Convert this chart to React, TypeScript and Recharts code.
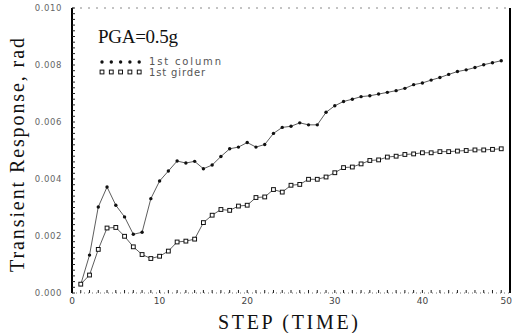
import React from 'react';
import { LineChart, Line, XAxis, YAxis, ReferenceLine } from 'recharts';

// step number (time) of each plotted point
const steps = [
  1, 2, 3, 4, 5, 6, 7, 8, 9, 10, 11, 12, 13, 14, 15, 16, 17, 18, 19, 20, 21, 22, 23, 24, 25,
  26, 27, 28, 29, 30, 31, 32, 33, 34, 35, 36, 37, 38, 39, 40, 41, 42, 43, 44, 45, 46, 47, 48, 49,
];

// transient response, rad
const firstColumn = [
  0.0003, 0.00133, 0.00302, 0.00372, 0.00308, 0.00267, 0.00206, 0.00213, 0.00331, 0.00393,
  0.00428, 0.00463, 0.00456, 0.00462, 0.00436, 0.00449, 0.00479, 0.00506, 0.00512, 0.00528,
  0.00512, 0.00521, 0.0056, 0.00581, 0.00585, 0.00597, 0.0059, 0.0059, 0.00634, 0.00657,
  0.00672, 0.0068, 0.00689, 0.00692, 0.00698, 0.00704, 0.0071, 0.00718, 0.00731, 0.00737,
  0.00747, 0.00756, 0.00767, 0.00777, 0.00783, 0.00791, 0.00801, 0.00808, 0.00815,
];

const firstGirder = [
  0.00031, 0.00063, 0.00153, 0.00228, 0.0023, 0.00199, 0.00162, 0.00135, 0.00121, 0.00129,
  0.00147, 0.00179, 0.00182, 0.00189, 0.00247, 0.00273, 0.00293, 0.0029, 0.00305, 0.00308,
  0.00335, 0.00337, 0.00363, 0.00354, 0.00378, 0.00381, 0.00399, 0.00399, 0.00407, 0.00422,
  0.0044, 0.00442, 0.00453, 0.00465, 0.00467, 0.00477, 0.0048, 0.00486, 0.00488, 0.00492,
  0.00492, 0.00496, 0.00496, 0.00498, 0.005, 0.00502, 0.00502, 0.00504, 0.00506,
];

const xTickLabels = [0, 10, 20, 30, 40, 50];
const yTickLabels = ['0.000', '0.002', '0.004', '0.006', '0.008', '0.010'];

const data = steps.map((s, i) => ({ step: s, column: firstColumn[i], girder: firstGirder[i] }));

// minor tick marks: one per step on x, every 0.0002 on y
const xMinor: number[] = [];
for (let i = 0; i <= 50; i++) xMinor.push(i);
const yMinor: number[] = [];
for (let i = 0; i <= 50; i++) yMinor.push(i * 0.0002);

const serif = '"Liberation Serif", "DejaVu Serif", serif';
const sans = '"DejaVu Sans", sans-serif';

const DotMark = (props: any) => {
  const { cx, cy } = props;
  if (cx == null || cy == null) return null;
  return <circle cx={cx} cy={cy} r={1.7} fill="#111" />;
};

const SquareMark = (props: any) => {
  const { cx, cy } = props;
  if (cx == null || cy == null) return null;
  return <rect x={cx - 1.9} y={cy - 1.9} width={3.8} height={3.8} fill="#fff" stroke="#111" strokeWidth={1} />;
};

const XTick = (props: any) => {
  const { x, y, payload } = props;
  const v = payload.value;
  if (!xTickLabels.includes(v)) return <g />;
  // last label would run off the page, pull it inside the edge
  const anchor = v === 50 ? 'end' : 'middle';
  const tx = v === 50 ? 512 : x;
  return (
    <text x={tx} y={y} dy="0.71em" textAnchor={anchor} fontSize={9} fontFamily={sans} fill="#444">
      {v}
    </text>
  );
};

const YTick = (props: any) => {
  const { x, y, index } = props;
  if (index % 10 !== 0) return <g />;
  const label = yTickLabels[index / 10];
  return (
    <text x={x} y={y} dy="0.35em" textAnchor="end" fontSize={8.5} fontFamily={sans} fill="#666" letterSpacing={0.6}>
      {label}
    </text>
  );
};

const App = () => {
  return (
    <div style={{ position: 'absolute', left: 0, top: 0, width: 513, height: 333, background: '#fff' }}>
      <LineChart width={513} height={333} data={data} margin={{ top: 8, right: 3, left: 12, bottom: 0 }}>
        <XAxis
          dataKey="step"
          type="number"
          domain={[0, 50]}
          ticks={xMinor}
          interval={0}
          height={40}
          tickSize={-3}
          tickMargin={8}
          tick={<XTick />}
          axisLine={{ stroke: '#777', strokeDasharray: '1 3' }}
          tickLine={{ stroke: '#222' }}
        />
        <YAxis
          type="number"
          domain={[0, 0.01]}
          ticks={yMinor}
          interval={0}
          width={60}
          tickSize={-3}
          tickMargin={13}
          tick={<YTick />}
          axisLine={{ stroke: '#000', strokeWidth: 2 }}
          tickLine={{ stroke: '#222' }}
        />
        <ReferenceLine x={50} stroke="#000" strokeWidth={2} />
        <ReferenceLine y={0.01} stroke="#888" strokeDasharray="2 6" />
        <Line
          dataKey="column"
          stroke="#333"
          strokeWidth={0.8}
          dot={<DotMark />}
          activeDot={false}
          isAnimationActive={false}
        />
        <Line
          dataKey="girder"
          stroke="#333"
          strokeWidth={0.8}
          dot={<SquareMark />}
          activeDot={false}
          isAnimationActive={false}
        />
      </LineChart>
      <svg width={513} height={333} style={{ position: 'absolute', left: 0, top: 0, pointerEvents: 'none' }}>
        <text
          transform="translate(24,155) rotate(-90)"
          textAnchor="middle"
          fontSize={20}
          fontFamily={serif}
          fill="#111"
          textLength={234}
          lengthAdjust="spacing"
        >
          Transient Response, rad
        </text>
        <text x={288} y={329} textAnchor="middle" fontSize={20} fontFamily={serif} fill="#111" textLength={140} lengthAdjust="spacing">
          STEP (TIME)
        </text>
        <text x={98} y={43} fontSize={19} fontFamily={serif} fill="#111" textLength={80} lengthAdjust="spacing">
          PGA=0.5g
        </text>
        {[0, 1, 2, 3, 4].map((i) => (
          <DotMark key={'c' + i} cx={102 + i * 9.3} cy={62} />
        ))}
        {[0, 1, 2, 3, 4].map((i) => (
          <SquareMark key={'g' + i} cx={102 + i * 9.3} cy={72} />
        ))}
        <text x={149} y={65} fontSize={10} fontFamily={sans} fill="#555" textLength={72} lengthAdjust="spacing">
          1st column
        </text>
        <text x={149} y={76} fontSize={10} fontFamily={sans} fill="#555" textLength={56} lengthAdjust="spacing">
          1st girder
        </text>
      </svg>
    </div>
  );
};

export default App;
